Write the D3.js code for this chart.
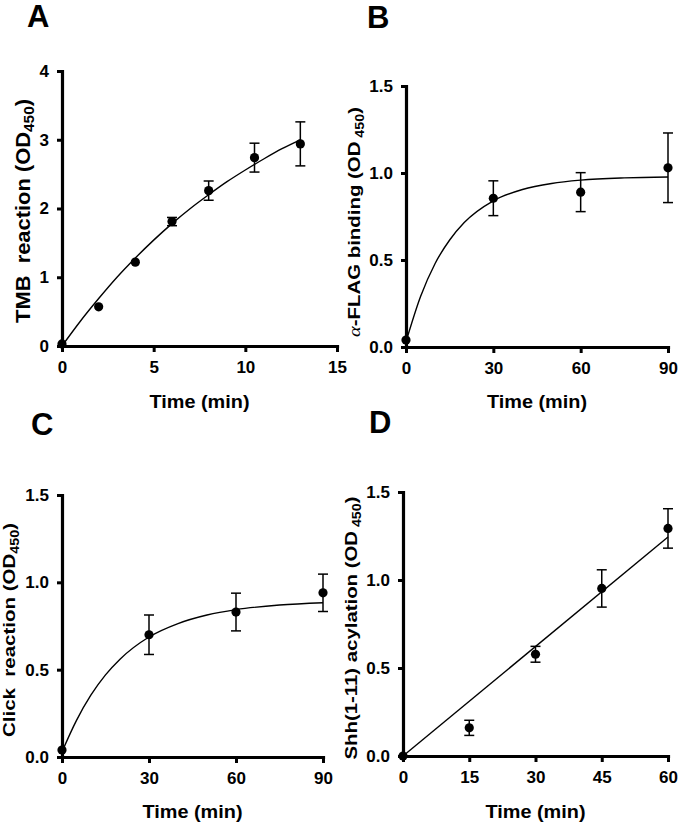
<!DOCTYPE html>
<html>
<head>
<meta charset="utf-8">
<script src="https://cdn.jsdelivr.net/npm/d3@7/dist/d3.min.js"></script>
<style>
  html, body { margin: 0; padding: 0; background: #fff; }
  svg { display: block; }
  text { font-family: "Liberation Sans", Arial, Helvetica, sans-serif; fill: #000; }
</style>
</head>
<body>
<svg id="chart" width="680" height="824"></svg>
<script>
// ---------- Panel A : TMB reaction ----------
const aX = [0, 2, 4, 6, 8, 10.5, 13];
const aY = [0.03, 0.57, 1.22, 1.81, 2.26, 2.74, 2.94];
const aErr = [0, 0, 0, 0.06, 0.14, 0.21, 0.32];
const aCurveX = [0, 1, 2, 3, 4, 5, 6, 7, 8, 9, 10, 11, 12, 13];
const aCurveY = [0, 0.36, 0.69, 1.0, 1.28, 1.54, 1.78, 2.0, 2.2, 2.39, 2.56, 2.72, 2.87, 3.0];
const aXTicks = [0, 5, 10, 15];
const aYTicks = [0, 1, 2, 3, 4];

// ---------- Panel B : alpha-FLAG binding ----------
const bX = [0, 30, 60, 90];
const bY = [0.04, 0.855, 0.89, 1.03];
const bErr = [0, 0.10, 0.112, 0.20];
const bCurveX = [0, 5, 10, 15, 20, 30, 40, 50, 60, 75, 90];
const bCurveY = [0.03, 0.29, 0.48, 0.615, 0.715, 0.84, 0.905, 0.94, 0.959, 0.972, 0.977];
const bXTicks = [0, 30, 60, 90];
const bYTicks = [0, 0.5, 1.0, 1.5];

// ---------- Panel C : Click reaction ----------
const cX = [0, 30, 60, 90];
const cY = [0.04, 0.70, 0.83, 0.94];
const cErr = [0, 0.113, 0.108, 0.107];
const cCurveX = [0, 5, 10, 15, 20, 30, 40, 50, 60, 75, 90];
const cCurveY = [0.03, 0.21, 0.355, 0.47, 0.56, 0.687, 0.764, 0.813, 0.844, 0.87, 0.883];
const cXTicks = [0, 30, 60, 90];
const cYTicks = [0, 0.5, 1.0, 1.5];

// ---------- Panel D : Shh(1-11) acylation ----------
const dX = [0, 15, 30, 45, 60];
const dY = [0, 0.16, 0.578, 0.952, 1.293];
const dErr = [0, 0.043, 0.045, 0.106, 0.112];
const dLineX = [0, 60];
const dLineY = [0, 1.244];
const dXTicks = [0, 15, 30, 45, 60];
const dYTicks = [0, 0.5, 1.0, 1.5];

const svg = d3.select("#chart");

function panel(cfg) {
  const x = d3.scaleLinear().domain(cfg.xDomain).range(cfg.xRange);
  const y = d3.scaleLinear().domain(cfg.yDomain).range(cfg.yRange);
  const g = svg.append("g");

  // fit curve
  const line = d3.line().x(d => x(d[0])).y(d => y(d[1])).curve(d3.curveMonotoneX);
  g.append("path")
    .datum(d3.zip(cfg.curveX, cfg.curveY))
    .attr("d", line)
    .attr("fill", "none")
    .attr("stroke", "#000")
    .attr("stroke-width", 1.4);

  // error bars
  const pts = cfg.px.map((v, i) => ({ x: v, y: cfg.py[i], e: cfg.pe[i] }));
  const eb = g.append("g").selectAll("g").data(pts.filter(d => d.e > 0)).join("g");
  eb.append("line")
    .attr("x1", d => x(d.x)).attr("x2", d => x(d.x))
    .attr("y1", d => y(d.y - d.e)).attr("y2", d => y(d.y + d.e))
    .attr("stroke", "#000").attr("stroke-width", 1.5);
  [1, -1].forEach(s => {
    eb.append("line")
      .attr("x1", d => x(d.x) - 5).attr("x2", d => x(d.x) + 5)
      .attr("y1", d => y(d.y + s * d.e)).attr("y2", d => y(d.y + s * d.e))
      .attr("stroke", "#000").attr("stroke-width", 1.5);
  });

  // axes
  const xAxis = d3.axisBottom(x).tickValues(cfg.xTicks).tickSize(6).tickSizeOuter(0).tickPadding(9)
    .tickFormat(d3.format("d"));
  const yAxis = d3.axisLeft(y).tickValues(cfg.yTicks).tickSize(5).tickSizeOuter(0).tickPadding(8)
    .tickFormat(cfg.yFmt);
  const gx = g.append("g").attr("transform", `translate(0,${cfg.yRange[0]})`).call(xAxis);
  const gy = g.append("g").attr("transform", `translate(${cfg.xRange[0]},0)`).call(yAxis);
  [gx, gy].forEach(a => {
    a.select(".domain").attr("stroke-width", 3.2).attr("stroke-linecap", "square");
    a.selectAll(".tick line").attr("stroke-width", 3);
    a.selectAll(".tick text").attr("font-size", 17).attr("font-weight", "bold")
      .attr("font-family", "'Liberation Sans', Arial, sans-serif");
  });

  // points
  g.append("g").selectAll("circle").data(pts).join("circle")
    .attr("cx", d => x(d.x)).attr("cy", d => y(d.y)).attr("r", 4.6).attr("fill", "#000");

  // x title
  g.append("text")
    .attr("x", (cfg.xRange[0] + cfg.xRange[1]) / 2)
    .attr("y", cfg.xTitleY)
    .attr("text-anchor", "middle")
    .attr("font-size", 18.5).attr("font-weight", "bold")
    .attr("textLength", 100).attr("lengthAdjust", "spacingAndGlyphs")
    .text("Time (min)");

  // y title
  const yt = g.append("text")
    .attr("transform", `translate(${cfg.yTitleX},${cfg.yTitleY}) rotate(-90)`)
    .attr("text-anchor", "middle")
    .attr("font-size", cfg.yTitleSize).attr("font-weight", "bold")
    .attr("textLength", cfg.yTitleLen).attr("lengthAdjust", "spacingAndGlyphs")
    .attr("xml:space", "preserve");
  if (cfg.alpha) {
    yt.append("tspan").attr("font-family", "'Liberation Serif', 'DejaVu Serif', serif")
      .attr("font-weight", "normal").attr("font-style", "italic").text("α");
  }
  yt.append("tspan").text(cfg.yTitle + " (OD");
  yt.append("tspan").attr("font-size", cfg.yTitleSize * 0.7).attr("dy", 4).text(cfg.sub);
  yt.append("tspan").attr("dy", -4).text(")");

  // panel letter
  svg.append("text").attr("x", cfg.letterX).attr("y", cfg.letterY)
    .attr("font-size", 31).attr("font-weight", "bold").text(cfg.letter);
}

const f1 = d3.format(".1f");

panel({ letter: "A", letterX: 27, letterY: 27,
  xDomain: [0, 15], xRange: [62, 337], yDomain: [0, 4], yRange: [346, 71],
  px: aX, py: aY, pe: aErr, curveX: aCurveX, curveY: aCurveY,
  xTicks: aXTicks, yTicks: aYTicks, yFmt: d3.format("d"),
  xTitleY: 408, yTitleX: 30, yTitleY: 211, yTitleSize: 20, yTitleLen: 224,
  yTitle: "TMB  reaction", sub: "450" });

panel({ letter: "B", letterX: 367, letterY: 28,
  xDomain: [0, 90], xRange: [406, 668], yDomain: [0, 1.5], yRange: [347, 86],
  px: bX, py: bY, pe: bErr, curveX: bCurveX, curveY: bCurveY,
  xTicks: bXTicks, yTicks: bYTicks, yFmt: f1, alpha: true,
  xTitleY: 408, yTitleX: 360, yTitleY: 222, yTitleSize: 17, yTitleLen: 230,
  yTitle: "-FLAG binding", sub: " 450" });

panel({ letter: "C", letterX: 31, letterY: 435,
  xDomain: [0, 90], xRange: [62, 323], yDomain: [0, 1.5], yRange: [757, 495],
  px: cX, py: cY, pe: cErr, curveX: cCurveX, curveY: cCurveY,
  xTicks: cXTicks, yTicks: cYTicks, yFmt: f1,
  xTitleY: 818, yTitleX: 15, yTitleY: 630, yTitleSize: 17, yTitleLen: 214,
  yTitle: "Click  reaction", sub: "450" });

panel({ letter: "D", letterX: 369, letterY: 433,
  xDomain: [0, 60], xRange: [403, 668], yDomain: [0, 1.5], yRange: [756, 492],
  px: dX, py: dY, pe: dErr, curveX: dLineX, curveY: dLineY,
  xTicks: dXTicks, yTicks: dYTicks, yFmt: f1,
  xTitleY: 818, yTitleX: 357, yTitleY: 628, yTitleSize: 17, yTitleLen: 263,
  yTitle: "Shh(1-11) acylation", sub: " 450" });
</script>
</body>
</html>
